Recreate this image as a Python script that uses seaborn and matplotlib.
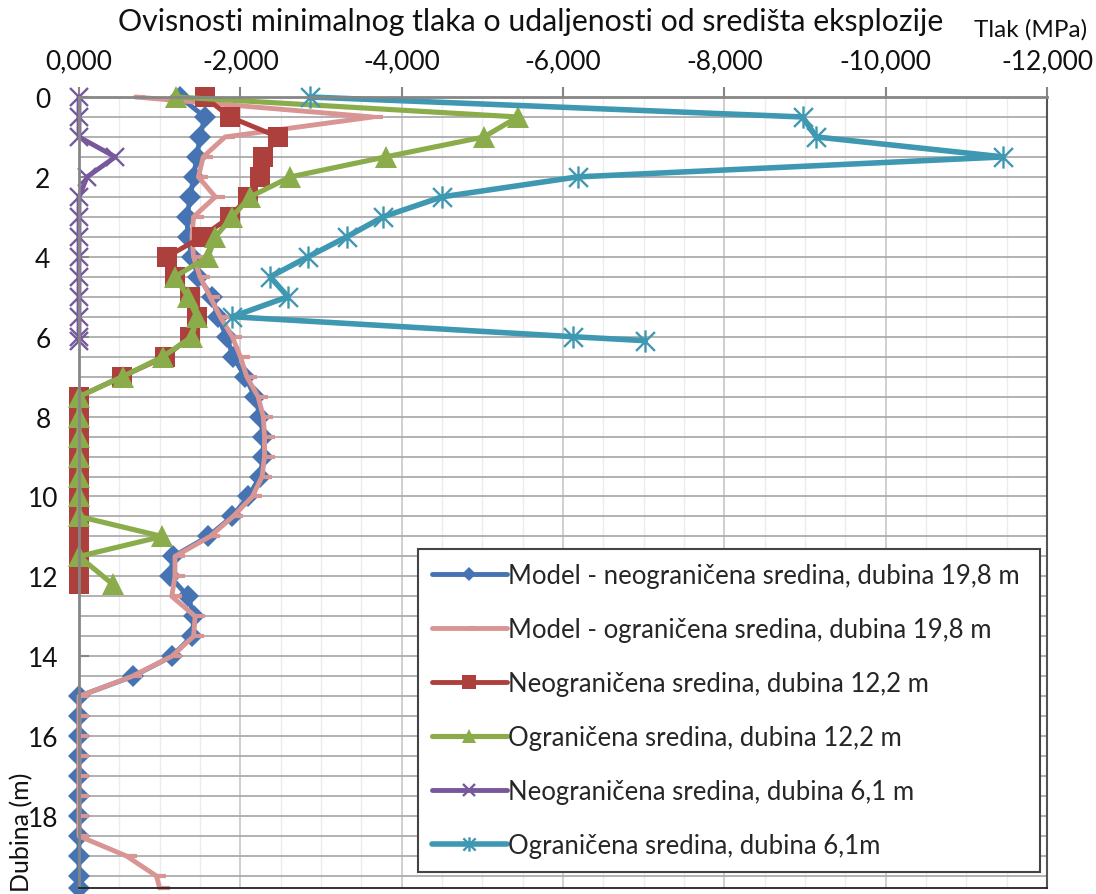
import numpy as np
import pandas as pd
import matplotlib
matplotlib.use("Agg")
import matplotlib.pyplot as plt
from matplotlib.path import Path
from matplotlib.ticker import MultipleLocator, FuncFormatter
import seaborn as sns

# Depth profiles (m) and minimum pressure (MPa)
depth_model = [0, 0.5, 1, 1.5, 2, 2.5, 3, 3.5, 4, 4.5, 5, 5.5, 6, 6.5, 7, 7.5, 8, 8.5,
               9, 9.5, 10, 10.5, 11, 11.5, 12, 12.5, 13, 13.5, 14, 14.5, 15, 15.5,
               16, 16.5, 17, 17.5, 18, 18.5, 19, 19.5, 19.8]
p_model_unconf = [-1.25, -1.56, -1.50, -1.46, -1.42, -1.38, -1.34, -1.35, -1.40, -1.48,
                  -1.65, -1.72, -1.83, -1.91, -2.06, -2.18, -2.245, -2.285, -2.285,
                  -2.245, -2.10, -1.90, -1.60, -1.17, -1.13, -1.35, -1.43, -1.40,
                  -1.15, -0.67, 0, 0, 0, 0, 0, 0, 0, 0, 0, 0, 0]
p_model_conf = [-0.70, -3.64, -1.81, -1.54, -1.48, -1.69, -1.42, -1.40, -1.42, -1.50,
                -1.625, -1.75, -1.90, -2.00, -2.08, -2.22, -2.285, -2.30, -2.30,
                -2.27, -2.15, -1.91, -1.625, -1.19, -1.19, -1.15, -1.44, -1.42,
                -1.15, -0.66, 0, 0, 0, 0, 0, 0, 0, 0, -0.59, -0.96, -1.00]

depth_12 = [0, 0.5, 1, 1.5, 2, 2.5, 3, 3.5, 4, 4.5, 5, 5.5, 6, 6.5, 7, 7.5, 8, 8.5,
            9, 9.5, 10, 10.5, 11, 11.5, 12, 12.2]
p_unconf_12 = [-1.56, -1.87, -2.47, -2.285, -2.245, -2.10, -1.87, -1.525, -1.09, -1.19,
               -1.38, -1.46, -1.38, -1.07, -0.53, 0, 0, 0, 0, 0, 0, 0, 0, 0, 0, 0]
depth_12_conf = [0, 0.5, 1, 1.5, 2, 2.5, 3, 3.5, 4, 4.5, 5, 5.5, 6, 6.5, 7, 7.5, 8,
                 8.5, 9, 9.5, 10, 10.5, 11, 11.5, 12.2]
p_conf_12 = [-1.20, -5.44, -5.02, -3.80, -2.62, -2.12, -1.90, -1.69, -1.60, -1.19,
             -1.35, -1.46, -1.40, -1.04, -0.54, 0, 0, 0, 0, 0, 0, 0, -1.03, 0, -0.42]

depth_6 = [0, 0.5, 1, 1.5, 2, 2.5, 3, 3.5, 4, 4.5, 5, 5.5, 6, 6.1]
p_unconf_6 = [0, 0, 0, -0.45, -0.10, 0, 0, 0, 0, 0, 0, 0, 0, 0]
p_conf_6 = [-2.86, -8.97, -9.14, -11.46, -6.18, -4.50, -3.77, -3.32, -2.84, -2.37,
            -2.59, -1.90, -6.12, -7.02]

labels = [
    "Model - neograničena sredina, dubina 19,8 m",
    "Model - ograničena sredina, dubina 19,8 m",
    "Neograničena sredina, dubina 12,2 m",
    "Ograničena sredina, dubina 12,2 m",
    "Neograničena sredina, dubina 6,1 m",
    "Ograničena sredina, dubina 6,1m",
]

x_ticks = [0, -2, -4, -6, -8, -10, -12]
y_ticks = [0, 2, 4, 6, 8, 10, 12, 14, 16, 18]

# Marker shapes: a short dash to the right, and an asterisk-like star
dash_marker = Path([(0, 0), (1, 0)], [Path.MOVETO, Path.LINETO])
star_marker = Path(
    [(0, -1), (0, 1), (-0.85, -0.85), (0.85, 0.85), (-0.85, 0.85), (0.85, -0.85)],
    [Path.MOVETO, Path.LINETO, Path.MOVETO, Path.LINETO, Path.MOVETO, Path.LINETO],
)

sns.set_theme(style="white")
plt.rcParams["font.family"] = ["Lato", "DejaVu Sans"]

fig = plt.figure(figsize=(10.96, 8.95), dpi=100)
ax = fig.add_axes([79 / 1096, 1 - 889 / 895, (1047 - 79) / 1096, (889 - 98) / 895])

series = [
    (depth_model, p_model_unconf, "#4673b2", "D", 11.5, 3.5, dict()),
    (depth_model, p_model_conf, "#d99593", dash_marker, 14, 3.5, dict(mew=3.0, mfc="none")),
    (depth_12, p_unconf_12, "#ad403c", "s", 14.5, 3.5, dict()),
    (depth_12_conf, p_conf_12, "#8aac4b", "^", 16, 3.7, dict()),
    (depth_6, p_unconf_6, "#76589b", "x", 13, 3.5, dict(mew=1.7)),
    (depth_6, p_conf_6, "#3f98b2", star_marker, 16, 4.0, dict(mew=1.7, mfc="none")),
]

for (d, p, color, marker, ms, lw, extra), lab in zip(series, labels):
    df = pd.DataFrame({"Tlak": p, "Dubina": d})
    kw = dict(mec=color, mew=0)
    kw.update(extra)
    sns.lineplot(data=df, x="Tlak", y="Dubina", ax=ax, sort=False, estimator=None,
                 color=color, linewidth=lw, marker=marker, markersize=ms, label=lab,
                 clip_on=False, legend=False, **kw)

ax.set_xlim(0, -12)
ax.set_ylim(19.8, 0)
ax.set_xticks(x_ticks)
ax.xaxis.set_minor_locator(MultipleLocator(0.5))
ax.xaxis.set_major_formatter(FuncFormatter(lambda v, _: f"{v:.3f}".replace(".", ",").replace("-0,000", "0,000")))
ax.set_yticks(y_ticks, labels=[f"{v:g}" for v in y_ticks], ha="center")
ax.yaxis.set_minor_locator(MultipleLocator(0.5))

ax.xaxis.tick_top()
ax.tick_params(axis="x", which="major", direction="out", length=7, width=1.5,
               color="#868686", labelsize=19, pad=10, labelcolor="#111111")
ax.tick_params(axis="x", which="minor", length=0)
ax.tick_params(axis="y", which="major", direction="in", length=7, width=1.5,
               color="#868686", labelsize=19, pad=26, labelcolor="#111111", left=True)
ax.tick_params(axis="y", which="minor", length=0)

ax.grid(which="major", axis="x", color="#cbcbcb", lw=1.3)
ax.grid(which="minor", axis="x", color="#ececec", lw=1.0)
ax.grid(which="both", axis="y", color="#ababab", lw=1.3)
ax.set_axisbelow(True)

for side, c, w in [("top", "#868686", 2.0), ("left", "#868686", 2.0),
                   ("right", "#555555", 1.5), ("bottom", "#222222", 1.3)]:
    ax.spines[side].set_visible(True)
    ax.spines[side].set_color(c)
    ax.spines[side].set_linewidth(w)

ax.set_xlabel("")
ax.set_ylabel("")

fig.text(531 / 1096, 1 - 22 / 895, "Ovisnosti minimalnog tlaka o udaljenosti od središta eksplozije",
         ha="center", va="center", fontsize=21.8, color="#111111")
fig.text(1031 / 1096, 1 - 30 / 895, "Tlak (MPa)", ha="center", va="center",
         fontsize=17.5, color="#111111")
fig.text(22 / 1096, 1 - 832 / 895, "Dubina (m)", ha="center", va="center",
         rotation=90, fontsize=18, color="#111111")

leg = ax.legend(loc="upper left",
                bbox_to_anchor=(418 / 1096, 1 - 875 / 895, (1040 - 418) / 1096, (875 - 550) / 895),
                bbox_transform=fig.transFigure, mode="expand", fontsize=18.5, frameon=True,
                fancybox=False, framealpha=1, edgecolor="#444444", borderpad=0.55,
                labelspacing=1.13, handlelength=2.9, handletextpad=0.05,
                borderaxespad=0, markerscale=0.65)
leg.get_frame().set_linewidth(1.5)

fig.savefig("out.png", dpi=100)
